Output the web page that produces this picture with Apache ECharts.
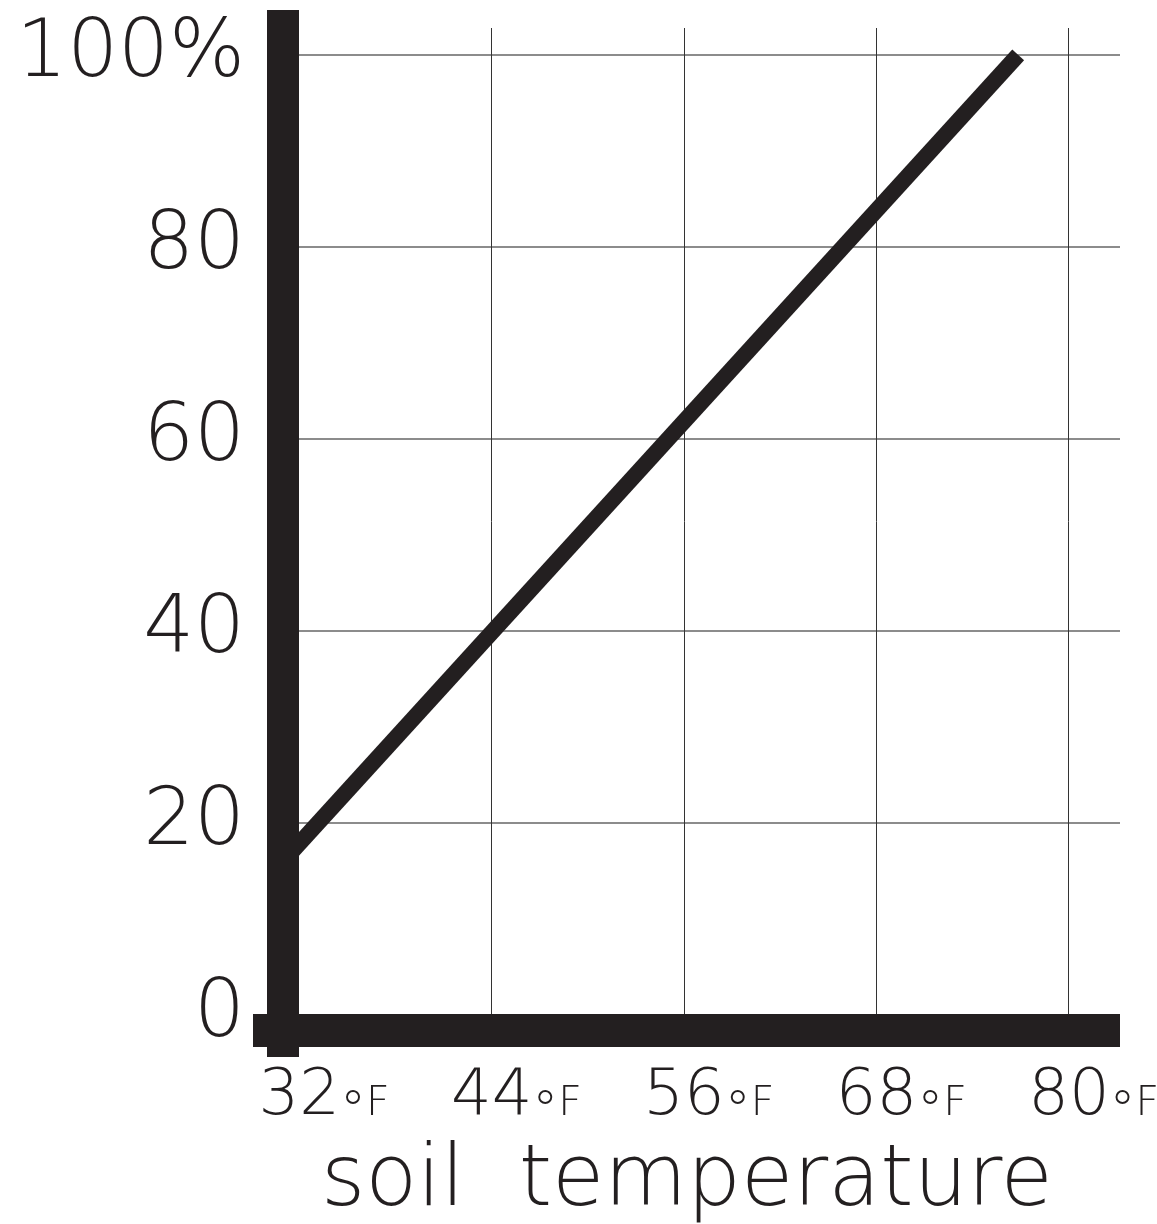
<!DOCTYPE html>
<html>
<head>
<meta charset="utf-8">
<script src="https://cdn.jsdelivr.net/npm/echarts@6/dist/echarts.min.js"></script>
<style>html,body{margin:0;padding:0;background:#fff}#c{width:1157px;height:1224px}</style>
</head>
<body>
<div id="c"></div>
<script>
// ---- data ----
const tempsF = [31, 76.85];            // soil temperature (°F)
const germination = [16, 100];         // percent
const xTickLabels = ['32', '44', '56', '68', '80'];
const yTickLabels = ['0', '20', '40', '60', '80', '100%'];
const X_BASE = 32;   // x axis starts at 32°F
const X_STEP = 12;
const Y_STEP = 20;
const xAxisTitle = 'soil  temperature';

const INK = '#231f20';
const FONT = '"DejaVu Sans", sans-serif';
const W = 200;

const chart = echarts.init(document.getElementById('c'), null, {renderer: 'canvas'});

const seriesData = tempsF.map((t, i) => [t - X_BASE, germination[i]]);

chart.setOption({
  animation: false,
  backgroundColor: '#fff',
  grid: {left: 299, right: 37, top: 28, bottom: 209, containLabel: false, outerBoundsMode: 'none'},
  xAxis: {
    type: 'value', min: 0, max: 51.2, interval: X_STEP,
    axisLine: {show: false}, axisTick: {show: false},
    splitLine: {show: true, showMinLine: false, showMaxLine: false, lineStyle: {color: '#333', width: 1}},
    axisLabel: {
      showMaxLabel: false, margin: 50,
      formatter: function (v) {
        const i = Math.round(v / X_STEP);
        if (Math.abs(v - i * X_STEP) > 1e-6 || i >= xTickLabels.length) return '';
        return '{p|}{n|' + xTickLabels[i] + '}{d|°}{u|F}';
      },
      rich: {
        p: {width: 50, verticalAlign: 'bottom'},
        n: {fontFamily: FONT, fontWeight: W, fontSize: 64, color: INK, verticalAlign: 'bottom', padding: [0, 0, 10, 0]},
        d: {fontFamily: FONT, fontWeight: W, fontSize: 52, color: INK, verticalAlign: 'bottom', padding: [0, 0, 0, 0]},
        u: {fontFamily: FONT, fontWeight: W, fontSize: 41, color: INK, verticalAlign: 'bottom', padding: [0, 0, 14, 0]}
      }
    }
  },
  yAxis: {
    type: 'value', min: 0, max: 102.8, interval: Y_STEP,
    axisLine: {show: false}, axisTick: {show: false},
    splitLine: {show: true, showMinLine: false, showMaxLine: false, lineStyle: {color: '#8c8c8c', width: 2}},
    axisLabel: {
      showMaxLabel: false, margin: 54,
      fontFamily: FONT, fontWeight: W, fontSize: 80, color: INK,
      padding: [0, 0, 4, 0],
      formatter: function (v) {
        const i = Math.round(v / Y_STEP);
        if (Math.abs(v - i * Y_STEP) > 1e-6 || i >= yTickLabels.length) return '';
        return yTickLabels[i];
      }
    }
  },
  series: [{
    type: 'line', data: seriesData, showSymbol: false, symbol: 'none', clip: true,
    lineStyle: {color: INK, width: 16, cap: 'butt'}, z: 5
  }]
});

const o = chart.convertToPixel({gridIndex: 0}, [0, 0]);
const r = chart.convertToPixel({gridIndex: 0}, [51.2, 0]);
chart.setOption({
  graphic: [
    {type: 'rect', z: 100, shape: {x: o[0] - 32, y: 10, width: 32, height: o[1] + 42 - 10}, style: {fill: INK}},
    {type: 'rect', z: 100, shape: {x: o[0] - 46, y: o[1] - 1, width: r[0] - (o[0] - 46), height: 33}, style: {fill: INK}},
    {type: 'text', z: 100, style: {text: xAxisTitle, x: 687, y: 1183, font: W + ' 85px ' + FONT, fill: INK, align: 'center', verticalAlign: 'middle'}}
  ]
});
</script>
</body>
</html>
